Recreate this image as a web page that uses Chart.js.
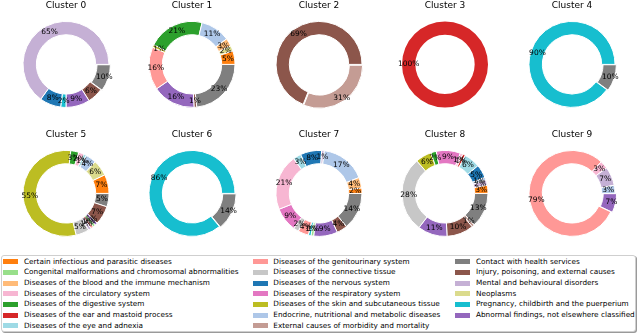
<!DOCTYPE html>
<html><head><meta charset="utf-8">
<script src="https://cdn.jsdelivr.net/npm/chart.js@4"></script>
<style>
html,body{margin:0;padding:0;background:#fff;width:640px;height:335px;overflow:hidden;font-family:"DejaVu Sans",sans-serif;}
#wrap{position:relative;width:640px;height:335px;}
canvas.pie{position:absolute;}
#legendBox{position:absolute;left:1px;top:255px;width:635px;height:77px;border:1px solid #cfcfcf;border-radius:3px;box-shadow:1px 1px 0 #9a9a9a;box-sizing:border-box;background:#fff;}
.lt{position:absolute;font-size:7.3px;color:#000;white-space:nowrap;line-height:8px;height:8px;}
.sw{position:absolute;width:15px;height:5px;}
</style></head>
<body><div id="wrap"><div id="legendBox"></div></div>
<script>
// Categories (legend order)
const categories = [
  "Certain infectious and parasitic diseases",
  "Congenital malformations and chromosomal abnormalities",
  "Diseases of the blood and the immune mechanism",
  "Diseases of the circulatory system",
  "Diseases of the digestive system",
  "Diseases of the ear and mastoid process",
  "Diseases of the eye and adnexia",
  "Diseases of the genitourinary system",
  "Diseases of the connective tissue",
  "Diseases of the nervous system",
  "Diseases of the respiratory system",
  "Diseases of the skin and subcutaneous tissue",
  "Endocrine, nutritional and metabolic diseases",
  "External causes of morbidity and mortality",
  "Contact with health services",
  "Injury, poisoning, and external causes",
  "Mental and behavioural disorders",
  "Neoplasms",
  "Pregnancy, childbirth and the puerperium",
  "Abnormal findings, not elsewhere classified"
];
const categoryColors = [
  "#ff7f0e","#98df8a","#ffbb78","#f7b6d2","#2ca02c","#d62728","#9edae5",
  "#ff9896","#c7c7c7","#1f77b4","#e377c2","#bcbd22","#aec7e8","#c49c94",
  "#7f7f7f","#8c564b","#c5b0d5","#dbdb8d","#17becf","#9467bd"
];

// Per-cluster slices (category index, clockwise from 3 o'clock) and percentages
const c0Cats = [14,15,19,18,9,16];            const c0Vals = [10,6,9,2,8,65];
const c1Cats = [14,15,19,7,11,4,12,2,17,0];   const c1Vals = [23,1,16,16,1,21,11,3,2,5];
const c2Cats = [13,15];                       const c2Vals = [31,69];
const c3Cats = [5];                           const c3Vals = [100];
const c4Cats = [14,18];                       const c4Vals = [10,90];
const c5Cats = [14,15,19,1,7,16,8,11,4,3,6,12,17,0];
const c5Vals = [5,7,1,1,1,1,5,55,3,2,1,4,6,7];
const c6Cats = [14,18];                       const c6Vals = [14,86];
const c7Cats = [14,15,19,1,18,7,8,10,3,6,9,16,12,2,0];
const c7Vals = [14,4,9,1,1,4,2,9,21,3,8,1,17,4,2];
const c8Cats = [14,13,15,19,8,11,4,10,3,5,6,9,12,16,0];
const c8Vals = [13,1,10,11,28,6,2,9,1,1,6,5,1,2,3];
const c9Cats = [19,7,3,16,12];                const c9Vals = [7,79,3,7,3];
const explodedClusters = [0,2,4,6,9];

const clusterCats = [c0Cats,c1Cats,c2Cats,c3Cats,c4Cats,c5Cats,c6Cats,c7Cats,c8Cats,c9Cats];
const clusterVals = [c0Vals,c1Vals,c2Vals,c3Vals,c4Vals,c5Vals,c6Vals,c7Vals,c8Vals,c9Vals];

const wrap = document.getElementById('wrap');

const pctLabels = {
  id: 'pctLabels',
  afterDatasetsDraw(chart) {
    const ctx = chart.ctx;
    const meta = chart.getDatasetMeta(0);
    const ds = chart.data.datasets[0];
    ctx.save();
    ctx.font = '7.5px "DejaVu Sans"';
    ctx.fillStyle = '#000';
    ctx.textAlign = 'center';
    ctx.textBaseline = 'middle';
    meta.data.forEach((arc, i) => {
      const p = arc.getProps(['x','y','startAngle','endAngle','innerRadius','outerRadius'], true);
      const mid = (p.startAngle + p.endAngle) / 2;
      const off = (ds.offset && ds.offset[i]) || 0;
      const r = (p.innerRadius + p.outerRadius) / 2 + off;
      ctx.fillText(ds.data[i] + '%', p.x + Math.cos(mid) * r, p.y + Math.sin(mid) * r);
    });
    ctx.restore();
  }
};

for (let k = 0; k < 10; k++) {
  const col = k % 5, row = Math.floor(k / 5);
  const cx = 66 + 126.4 * col;
  const cv = document.createElement('canvas');
  cv.className = 'pie';
  cv.width = 126; cv.height = 118;
  cv.style.left = (cx - 63) + 'px';
  cv.style.top = (row ? 129 : 0) + 'px';
  wrap.appendChild(cv);
  const cats = clusterCats[k], vals = clusterVals[k];
  const exploded = explodedClusters.includes(k);
  new Chart(cv, {
    type: 'doughnut',
    data: {
      labels: cats.map(i => categories[i]),
      datasets: [{
        data: vals,
        backgroundColor: cats.map(i => categoryColors[i]),
        borderColor: '#ffffff',
        borderWidth: vals.length > 1 ? 1 : 0,
        offset: vals.map((v, i) => (exploded && i === 0) ? 4 : 0),
        hoverOffset: 0
      }]
    },
    options: {
      responsive: false,
      animation: false,
      events: [],
      rotation: 90,
      cutout: '69%',
      radius: 43,
      layout: { padding: 0 },
      plugins: {
        legend: { display: false },
        tooltip: { enabled: false },
        title: {
          display: true,
          text: 'Cluster ' + k,
          color: '#000',
          font: { family: 'DejaVu Sans', size: 9, weight: 'normal' },
          padding: { top: 0, bottom: 0 }
        }
      }
    },
    plugins: [pctLabels]
  });
}

// Legend (3 columns, column-major)
const colPatchX = [3.3, 253.3, 455];
const colTextX = [24, 273.3, 476];
for (let i = 0; i < categories.length; i++) {
  const c = Math.floor(i / 7), r = i % 7;
  const yc = 261.7 + 10.67 * r;
  const sw = document.createElement('div');
  sw.className = 'sw';
  sw.style.left = colPatchX[c] + 'px';
  sw.style.top = (yc - 2.5) + 'px';
  sw.style.background = categoryColors[i];
  wrap.appendChild(sw);
  const t = document.createElement('div');
  t.className = 'lt';
  t.style.left = colTextX[c] + 'px';
  t.style.top = (yc - 4) + 'px';
  t.textContent = categories[i];
  wrap.appendChild(t);
}
</script>
</body></html>
